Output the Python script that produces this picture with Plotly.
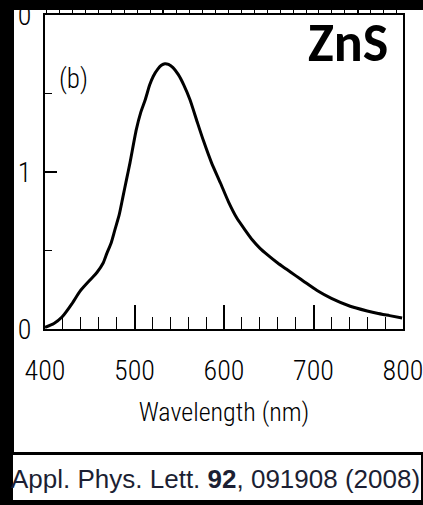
import plotly.graph_objects as go

# ---- data ----
wavelength_nm = [400, 410, 419, 430, 439, 450, 458, 465, 469, 474, 478, 483, 487, 491, 495,
                 502, 507, 512, 517, 521, 526, 530, 534, 538, 543, 549, 555, 562, 570, 577,
                 586, 596, 605, 614, 623, 632, 640, 649, 660, 670, 680, 690, 704, 720, 741,
                 760, 771, 785, 799]
intensity = [0.01, 0.035, 0.076, 0.16, 0.24, 0.31, 0.36, 0.42, 0.48, 0.55, 0.63, 0.73, 0.84, 0.95, 1.06,
             1.27, 1.38, 1.46, 1.555, 1.61, 1.655, 1.68, 1.69, 1.685, 1.665, 1.62, 1.555, 1.46, 1.32, 1.20,
             1.06, 0.93, 0.81, 0.71, 0.635, 0.565, 0.515, 0.47, 0.42, 0.38, 0.34, 0.30, 0.245, 0.195, 0.145,
             0.115, 0.10, 0.085, 0.07]

x_ticks = [400, 500, 600, 700, 800]
x_ticklabels = ["400", "500", "600", "700", "800"]
y_ticks = [0, 1, 2]
y_ticklabels = ["0", "1", "0"]

x_title = "Wavelength (nm)"
panel_label = "(b)"
material = "ZnS"
citation = "Appl. Phys. Lett. <b>92</b>, 091908 (2008)"

NARROW = "Roboto Condensed, DejaVu Sans Condensed, sans-serif"

fig = go.Figure()
fig.add_trace(go.Scatter(x=wavelength_nm, y=intensity, mode="lines",
                         line=dict(color="black", width=3, shape="spline", smoothing=0.6),
                         hoverinfo="skip", showlegend=False))
# invisible trace to activate the top (cut-off panel a) axis
fig.add_trace(go.Scatter(x=[500], y=[0], xaxis="x2", mode="markers",
                         marker=dict(opacity=0), hoverinfo="skip", showlegend=False))

fig.update_layout(
    width=423, height=505,
    margin=dict(l=45, r=20, t=15, b=176),
    paper_bgcolor="black", plot_bgcolor="white",
    xaxis=dict(range=[400, 800], tickvals=x_ticks, ticktext=x_ticklabels, automargin=False,
               ticks="inside", ticklen=24, tickwidth=1.5, tickcolor="black",
               minor=dict(dtick=20, ticks="inside", ticklen=12, tickwidth=1.2, tickcolor="black"),
               showline=True, linecolor="black", linewidth=2, mirror=False,
               showgrid=False, zeroline=False, ticklabeloverflow="allow",
               tickfont=dict(family=NARROW, size=28, color="black", weight=300),
               ticklabelstandoff=15,
               title=dict(text=x_title, font=dict(family=NARROW, size=26, color="black", weight=300),
                          standoff=17)),
    xaxis2=dict(overlaying="x", side="top", range=[409, 684.7], dtick=150, tick0=500, automargin=False,
                ticks="outside", ticklen=12, tickwidth=1.5, tickcolor="black",
                minor=dict(dtick=10, ticks="outside", ticklen=10, tickwidth=1.2, tickcolor="black"),
                showticklabels=False, showline=True, linecolor="black", linewidth=2,
                showgrid=False, zeroline=False),
    yaxis=dict(range=[0, 2], tickvals=y_ticks, ticktext=y_ticklabels, automargin=False,
               ticks="inside", ticklen=12, tickwidth=1.5, tickcolor="black",
               minor=dict(tickvals=[0.5, 1.5], ticks="inside", ticklen=7, tickwidth=1.2, tickcolor="black"),
               showline=True, linecolor="black", linewidth=2, mirror=True,
               showgrid=False, zeroline=False, ticklabeloverflow="allow",
               tickfont=dict(family=NARROW, size=28, color="black", weight=300),
               ticklabelstandoff=6),
    shapes=[
        # main white panel
        dict(type="rect", xref="paper", yref="paper", x0=-0.0866, x1=1.06, y0=-0.3917, y1=1.0159,
             fillcolor="white", line=dict(width=0), layer="below"),
        # citation box
        dict(type="rect", xref="paper", yref="paper", x0=-0.0894, x1=1.0503, y0=-0.5446, y1=-0.4013,
             fillcolor="white", line=dict(width=0), layer="below"),
        # black strip covering the top (cut-off panel a)
        dict(type="rect", xref="paper", yref="paper", x0=-0.2, x1=1.2, y0=1.0159, y1=1.1,
             fillcolor="black", line=dict(width=0), layer="above"),
    ],
    annotations=[
        dict(text=material, xref="paper", yref="paper", x=0.845, y=0.912, showarrow=False,
             xanchor="center", yanchor="middle",
             font=dict(family="Carlito, Lato, sans-serif", size=54, color="black", weight="bold")),
        dict(text=panel_label, xref="paper", yref="paper", x=0.081, y=0.796, showarrow=False,
             xanchor="center", yanchor="middle",
             font=dict(family=NARROW, size=27, color="black", weight=300)),
        dict(text=citation, xref="paper", yref="paper", x=0.476, y=-0.478, showarrow=False,
             xanchor="center", yanchor="middle",
             font=dict(family="Liberation Sans, Arial, sans-serif", size=26, color="#1c1f33")),
    ],
)

fig.write_html("out.html", config={"displayModeBar": False},
               post_script="document.body.style.margin='0';")
